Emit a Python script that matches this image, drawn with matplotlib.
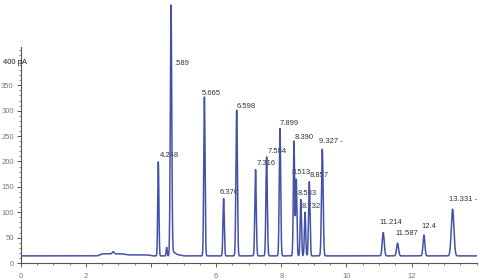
import numpy as np
import matplotlib
matplotlib.use("Agg")
import matplotlib.pyplot as plt
from matplotlib.ticker import MultipleLocator, FixedLocator

# peak data (drawn position, apex height in pA, label)
peak_pos = [2.84, 4.225, 4.48, 4.615, 5.64, 6.23, 6.63, 7.21, 7.55, 7.96,
            8.39, 8.46, 8.60, 8.73, 8.86, 9.26, 11.13, 11.57, 12.38, 13.26]
peak_top = [22, 199, 31, 508, 327, 127, 301, 184, 209, 265,
            240, 165, 125, 100, 160, 224, 60, 39, 55, 106]
peak_width = [0.03, 0.018, 0.015, 0.022, 0.02, 0.02, 0.022, 0.022, 0.022, 0.022,
              0.02, 0.02, 0.02, 0.02, 0.022, 0.025, 0.03, 0.03, 0.028, 0.04]

# baseline drift (incl. the tail after the big peak)
base_t = [0, 2.35, 2.5, 3.1, 3.3, 3.9, 4.05, 4.58, 4.64, 4.8, 5.0, 14]
base_y = [14, 14, 18, 18, 16, 16, 14, 14, 24, 17, 14, 14]

peak_labels = ["4.248", ".589", "5.665", "6.376", "6.598", "7.316", "7.584",
               "7.899", "8.390", "8.513", "8.583", "8.732", "8.857", "9.327 -",
               "11.214", "11.587", "12.4", "13.331 -"]
label_x = [4.28, 4.71, 5.56, 6.12, 6.63, 7.25, 7.58, 7.96, 8.42, 8.33, 8.49,
           8.63, 8.88, 9.17, 11.03, 11.51, 12.31, 13.16]
label_y = [212, 392, 334, 138, 309, 196, 220, 275, 248, 178, 137, 112, 173,
           239, 79, 58, 72, 125]

line_color = "#4352a6"

t = np.linspace(0, 14, 8000)
signal = np.interp(t, base_t, base_y)
base_at_peaks = np.interp(peak_pos, base_t, base_y)
for p, h, w, b in zip(peak_pos, peak_top, peak_width, base_at_peaks):
    signal = signal + (h - b) * np.exp(-0.5 * ((t - p) / w) ** 2)

fig = plt.figure(figsize=(4.81, 2.80), dpi=100)
ax = fig.add_axes([20.7 / 481, 17 / 280, (476.7 - 20.7) / 481, 263 / 280])

#labels go under the trace
for txt, x, y in zip(peak_labels, label_x, label_y):
    ax.text(x, y, txt, fontsize=5.5, family="Liberation Sans", color="#333333",
            va="center", ha="left", zorder=1)

ax.plot(t, signal, color=line_color, lw=1.1, zorder=3)

ax.set_xlim(0, 14)
ax.set_ylim(0, 518)

for s in ["top", "right"]:
    ax.spines[s].set_visible(False)
ax.spines["left"].set_bounds(0, 425)
ax.spines["left"].set_color("#555555")
ax.spines["bottom"].set_color("#555555")
ax.spines["left"].set_linewidth(0.8)
ax.spines["bottom"].set_linewidth(0.8)

ax.set_xticks([0, 2, 4, 6, 8, 10, 12])
ax.set_xticklabels(["0", "2", "", "6", "8", "10", "12"])
ax.xaxis.set_minor_locator(MultipleLocator(0.5))
ax.set_yticks([0, 50, 100, 150, 200, 250, 300, 350])
ax.yaxis.set_minor_locator(FixedLocator(np.arange(0, 421, 10)))
ax.tick_params(axis="both", which="major", labelsize=5.5, labelcolor="#777777",
               color="#555555", length=3, width=0.7, pad=2)
ax.tick_params(axis="both", which="minor", color="#555555", length=1.5, width=0.5)
ax.tick_params(axis="x", pad=4)
for lab in ax.get_xticklabels() + ax.get_yticklabels():
    lab.set_family("Liberation Sans")

fig.text(3 / 481, 1 - 62 / 280, "400 pA", fontsize=5.5, family="Liberation Sans",
         color="#222222", ha="left", va="center")

fig.savefig("out.png", dpi=100)
